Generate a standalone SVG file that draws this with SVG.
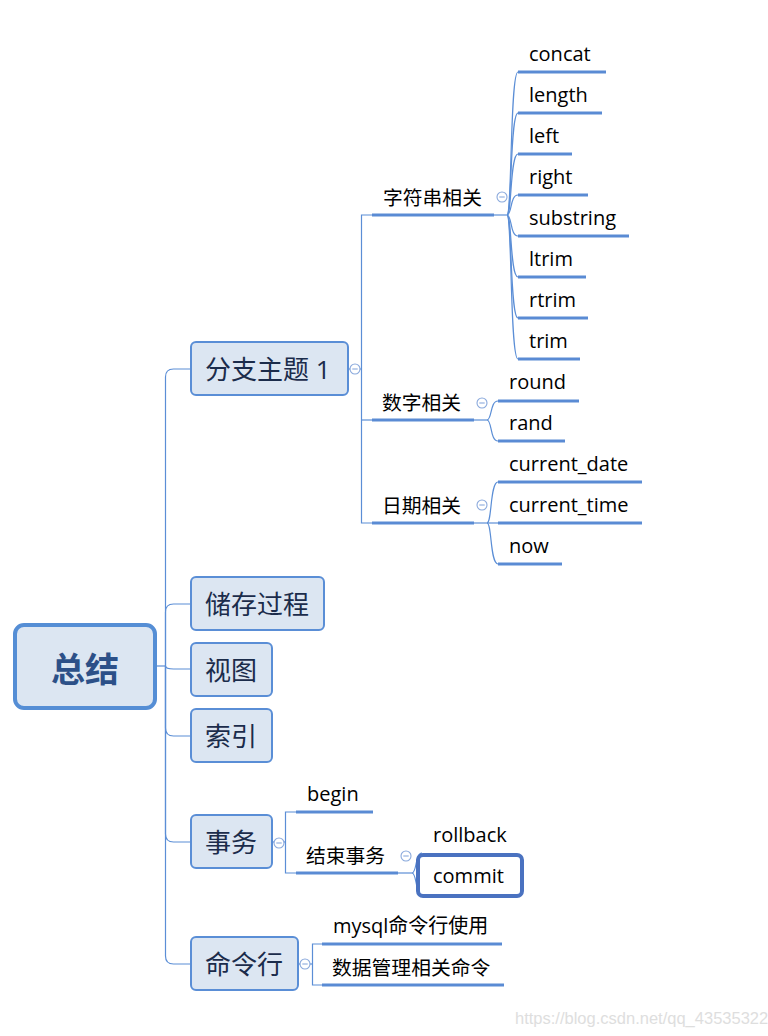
<svg xmlns="http://www.w3.org/2000/svg" width="768" height="1036" viewBox="0 0 768 1036">
<style>
.bg{fill:#ffffff}
.ln{fill:none;stroke:#5b8ed6;stroke-width:1.2}
.ul{fill:none;stroke:#5a8bd4;stroke-width:3}
.topic{fill:#dce6f2;stroke:#5a8ed6;stroke-width:2}
.root{fill:#dce6f2;stroke:#558ed5;stroke-width:4}
.sel{fill:#ffffff;stroke:#4a72c0;stroke-width:4}
.tb{font-family:"Open Sans","Noto Sans CJK SC",sans-serif;font-size:26px;fill:#1b2c4b;dominant-baseline:central}
.tr{font-family:"Noto Sans CJK SC",sans-serif;font-size:34px;font-weight:700;fill:#2c5088;text-anchor:middle;dominant-baseline:central}
.tl{font-family:"Open Sans","Noto Sans CJK SC",sans-serif;font-size:20px;fill:#000000}
.tc{font-family:"Noto Sans CJK SC",sans-serif;font-size:19.8px;fill:#000000;dominant-baseline:central}
.col circle{fill:#ffffff;stroke:#8aa9dc;stroke-width:1.1}
.col path{stroke:#8aa9dc;stroke-width:1.1}
.wm{font-family:"Liberation Sans",Arial,sans-serif;font-size:16.5px;fill:#dedede}
</style>
<rect class="bg" x="0" y="0" width="768" height="1036"/>

<g id="connectors">
  <!-- root trunk -->
  <path class="ln" d="M157,666 H165.5"/>
  <path class="ln" d="M165.5,666 V377 Q165.5,369 173.5,369 H191"/>
  <path class="ln" d="M165.5,666 V612 Q165.5,604 173.5,604 H191"/>
  <path class="ln" d="M165.5,666 Q165.5,669 173.5,669 H191"/>
  <path class="ln" d="M165.5,666 V728 Q165.5,736 173.5,736 H191"/>
  <path class="ln" d="M165.5,666 V834 Q165.5,842 173.5,842 H191"/>
  <path class="ln" d="M165.5,666 V956 Q165.5,964 173.5,964 H191"/>
  <!-- 分支主题1 trunk -->
  <path class="ln" d="M348,369 H361.5"/>
  <path class="ln" d="M372,215 H361.5 V523 H372"/>
  <path class="ln" d="M361.5,420 H372"/>
  <path class="ln" d="M494,215 H507"/>
  <path class="ln" d="M474,420 H487"/>
  <path class="ln" d="M474,523 H487"/>
  <!-- 字符串相关 leaves -->
  <path class="ln" d="M507,215 C512,215 510,72 518,72"/>
  <path class="ln" d="M507,215 C512,215 510,113 518,113"/>
  <path class="ln" d="M507,215 C512,215 510,154 518,154"/>
  <path class="ln" d="M507,215 C512,215 510,195 518,195"/>
  <path class="ln" d="M507,215 C512,215 510,236 518,236"/>
  <path class="ln" d="M507,215 C512,215 510,277 518,277"/>
  <path class="ln" d="M507,215 C512,215 510,318 518,318"/>
  <path class="ln" d="M507,215 C512,215 510,359 518,359"/>
  <!-- 数字相关 leaves -->
  <path class="ln" d="M487,420 C492,420 490,401 498,401"/>
  <path class="ln" d="M487,420 C492,420 490,441 498,441"/>
  <!-- 日期相关 leaves -->
  <path class="ln" d="M487,523 C492,523 490,482 498,482"/>
  <path class="ln" d="M487,523 H498"/>
  <path class="ln" d="M487,523 C492,523 490,564 498,564"/>
  <!-- 事务 -->
  <path class="ln" d="M272,842 H285.5"/>
  <path class="ln" d="M296,812 H285.5 V873 H296"/>
  <path class="ln" d="M398,873 H412"/>
  <path class="ln" d="M412,873 C417,873 415,853 422,853"/>
  <path class="ln" d="M412,873 C417,873 415,894 422,894"/>
  <!-- 命令行 -->
  <path class="ln" d="M298,964 H312.5"/>
  <path class="ln" d="M322,944 H312.5 V985 H322"/>
  <!-- underlines -->
  <path class="ul" d="M372,215 H494 M372,420 H474 M372,523 H474"/>
  <path class="ul" d="M518,72 H606 M518,113 H602 M518,154 H572 M518,195 H588 M518,236 H629 M518,277 H586 M518,318 H588 M518,359 H580"/>
  <path class="ul" d="M498,401 H579 M498,441 H565 M498,482 H642 M498,523 H642 M498,564 H562"/>
  <path class="ul" d="M296,812 H373 M296,873 H398"/>
  <path class="ul" d="M322,944 H502 M322,985 H504"/>
</g>

<g id="root">
  <rect class="root" x="15" y="625" width="140" height="83" rx="9"/>
  <text class="tr" x="85" y="667">总结</text>
</g>

<g id="n-branch1">
  <rect class="topic" x="191" y="342" width="157" height="53" rx="5"/>
  <text class="tb" x="205" y="369">分支主题 1</text>
</g>
<g id="n-proc">
  <rect class="topic" x="191" y="577" width="133" height="53" rx="5"/>
  <text class="tb" x="205" y="604">储存过程</text>
</g>
<g id="n-view">
  <rect class="topic" x="191" y="643" width="81" height="53" rx="5"/>
  <text class="tb" x="205" y="670">视图</text>
</g>
<g id="n-index">
  <rect class="topic" x="191" y="709" width="81" height="53" rx="5"/>
  <text class="tb" x="205" y="736">索引</text>
</g>
<g id="n-tx">
  <rect class="topic" x="191" y="815" width="81" height="53" rx="5"/>
  <text class="tb" x="205" y="842">事务</text>
</g>
<g id="n-cmd">
  <rect class="topic" x="191" y="937" width="107" height="53" rx="5"/>
  <text class="tb" x="205" y="964">命令行</text>
</g>

<g id="n-str"><text class="tc" x="383" y="196">字符串相关</text></g>
<g id="n-num"><text class="tc" x="382" y="401">数字相关</text></g>
<g id="n-date"><text class="tc" x="382" y="504">日期相关</text></g>

<g id="n-concat"><text class="tl" x="529" y="61">concat</text></g>
<g id="n-length"><text class="tl" x="529" y="102">length</text></g>
<g id="n-left"><text class="tl" x="529" y="143">left</text></g>
<g id="n-right"><text class="tl" x="529" y="184">right</text></g>
<g id="n-substring"><text class="tl" x="529" y="225">substring</text></g>
<g id="n-ltrim"><text class="tl" x="529" y="266">ltrim</text></g>
<g id="n-rtrim"><text class="tl" x="529" y="307">rtrim</text></g>
<g id="n-trim"><text class="tl" x="529" y="348">trim</text></g>

<g id="n-round"><text class="tl" x="509" y="389">round</text></g>
<g id="n-rand"><text class="tl" x="509" y="430">rand</text></g>
<g id="n-cdate"><text class="tl" x="509" y="471">current_date</text></g>
<g id="n-ctime"><text class="tl" x="509" y="512">current_time</text></g>
<g id="n-now"><text class="tl" x="509" y="553">now</text></g>

<g id="n-begin"><text class="tl" x="307" y="801">begin</text></g>
<g id="n-end"><text class="tc" x="306" y="854">结束事务</text></g>
<g id="n-rollback"><text class="tl" x="433" y="842">rollback</text></g>
<g id="n-commit">
  <rect class="sel" x="418" y="855" width="104" height="41" rx="5"/>
  <text class="tl" x="433" y="883">commit</text>
</g>

<g id="n-mysql"><text class="tl" x="333" y="933">mysql命令行使用</text></g>
<g id="n-dbcmd"><text class="tc" x="332" y="966">数据管理相关命令</text></g>

<g id="collapse" class="col">
  <circle cx="355" cy="369" r="5"/><path d="M352.3,369 H357.7"/>
  <circle cx="502" cy="197" r="5"/><path d="M499.3,197 H504.7"/>
  <circle cx="482" cy="403" r="5"/><path d="M479.3,403 H484.7"/>
  <circle cx="482" cy="505" r="5"/><path d="M479.3,505 H484.7"/>
  <circle cx="279" cy="843" r="5"/><path d="M276.3,843 H281.7"/>
  <circle cx="406" cy="856" r="5"/><path d="M403.3,856 H408.7"/>
  <circle cx="305" cy="964" r="5"/><path d="M302.3,964 H307.7"/>
</g>

<text class="wm" x="515" y="1024">https://blog.csdn.net/qq_43535322</text>
</svg>
